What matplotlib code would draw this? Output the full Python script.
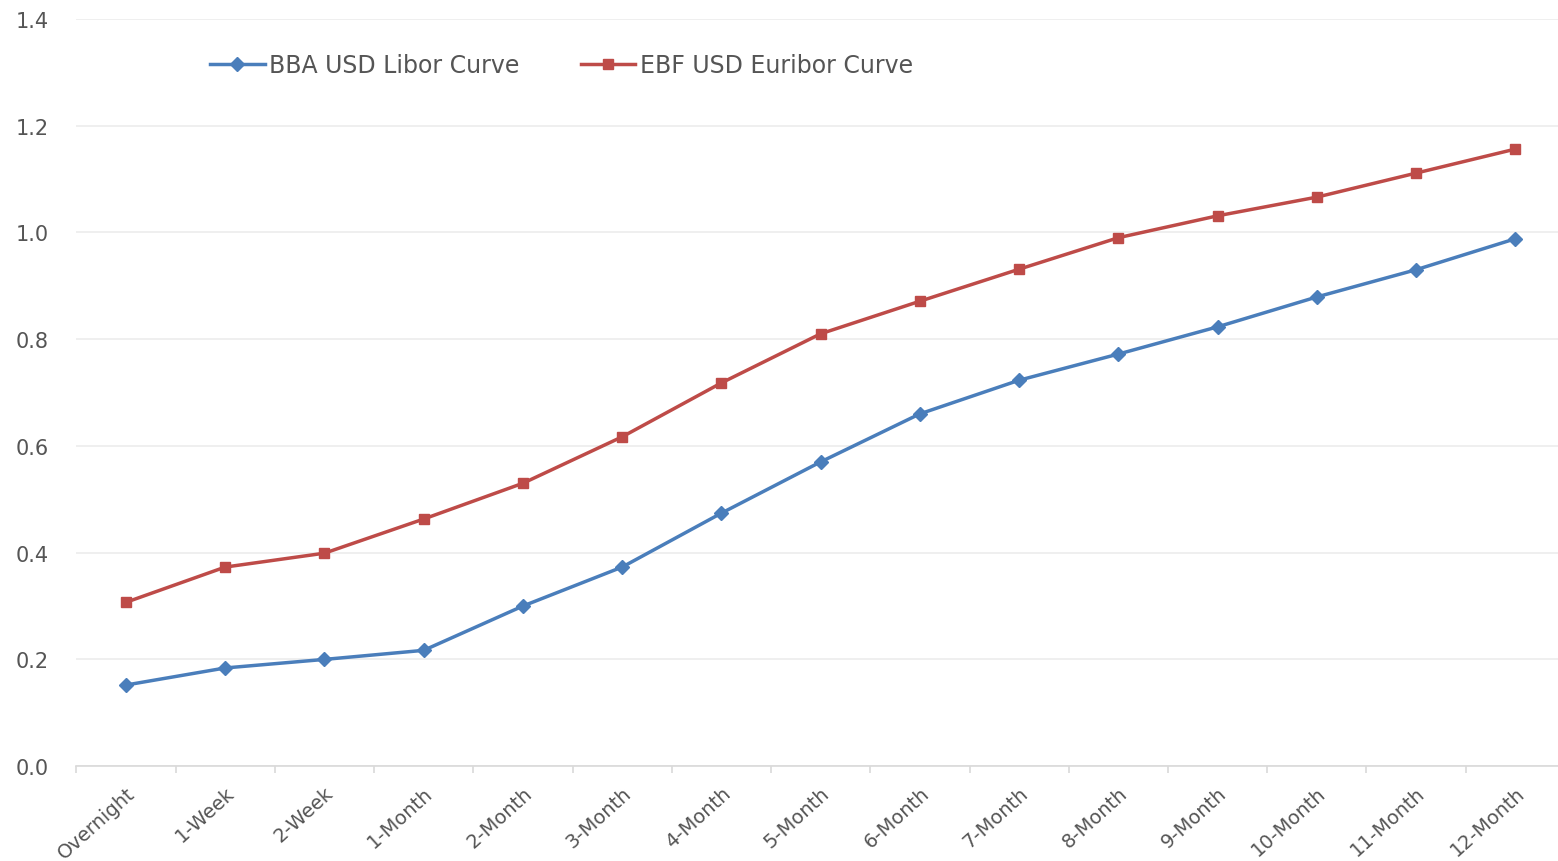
import matplotlib.pyplot as plt
import numpy as np

# Plazos de la curva
plazos = ['Overnight', '1-Week', '2-Week', '1-Month', '2-Month', '3-Month', '4-Month',
          '5-Month', '6-Month', '7-Month', '8-Month', '9-Month', '10-Month', '11-Month',
          '12-Month']

libor = [0.152, 0.184, 0.200, 0.217, 0.300, 0.373, 0.474, 0.570, 0.660, 0.723,
         0.772, 0.823, 0.879, 0.930, 0.988]

euribor = [0.307, 0.373, 0.399, 0.463, 0.530, 0.617, 0.718, 0.810, 0.871, 0.931,
           0.990, 1.031, 1.066, 1.111, 1.156]

x = np.arange(len(plazos))

fig = plt.figure(figsize=(15.58, 8.62), dpi=100)
ax = fig.add_axes([0.049, 0.110, 0.951, 0.867])

ax.plot(x, libor, color='#4a7ebb', lw=2.5, marker='D', ms=7,
        label='BBA USD Libor Curve')
ax.plot(x, euribor, color='#be4b48', lw=2.5, marker='s', ms=7,
        label='EBF USD Euribor Curve')

ax.set_ylim(0, 1.4)
ax.set_yticks(np.arange(0, 1.41, 0.2))
ax.set_yticklabels([f'{v:.1f}' for v in np.arange(0, 1.41, 0.2)])
ax.set_xlim(-0.5, 14.43)

ax.set_xticks(x)
ax.set_xticklabels(plazos, rotation=42, ha='right', rotation_mode='anchor')
ax.set_xticks(np.arange(-0.5, 14, 1), minor=True)
ax.tick_params(axis='x', which='major', length=0, pad=12, labelsize=14,
               labelcolor='#555555')
ax.tick_params(axis='x', which='minor', length=5, color='#d9d9d9', width=1.2)
ax.tick_params(axis='y', length=0, pad=20, labelsize=15, labelcolor='#555555')

ax.grid(axis='y', color='#ececec', lw=1.2)
ax.set_axisbelow(True)
for s in ['top', 'right', 'left']:
    ax.spines[s].set_visible(False)
ax.spines['bottom'].set_color('#d9d9d9')
ax.spines['bottom'].set_linewidth(1.2)

ax.legend(loc='upper left', bbox_to_anchor=(0.076, 0.983), ncol=2, frameon=False,
          fontsize=17, labelcolor='#555555', handlelength=2.3, columnspacing=2.6,
          handletextpad=0.2)

fig.savefig('out.png', dpi=100)
